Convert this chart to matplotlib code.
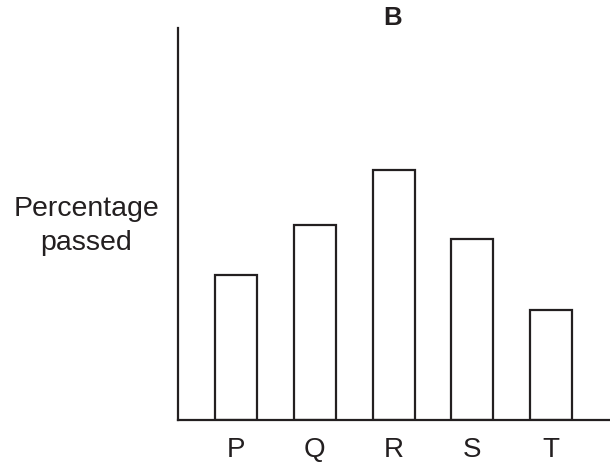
import matplotlib
matplotlib.use("Agg")
import matplotlib.pyplot as plt

categories = ["P", "Q", "R", "S", "T"]
values = [37.0, 49.7, 63.8, 46.2, 28.1]
title = "B"
ylabel = "Percentage\npassed"

plt.rcParams['font.family'] = ['Liberation Sans', 'DejaVu Sans']

fig = plt.figure(figsize=(6.10, 4.63), dpi=100)
ax = fig.add_axes([178/610, 43/463, 432/610, 392/463])
x = list(range(len(categories)))
ax.bar(x, values, width=0.533, facecolor='white', edgecolor='#231f20', linewidth=1.6)
ax.set_xlim(-0.737, 4.749)
ax.set_ylim(0, 100)
ax.set_xticks(x)
ax.set_xticklabels(categories, fontsize=20, color='#231f20')
ax.tick_params(axis='x', length=0, pad=12)
ax.set_yticks([])
for s in ['top', 'right']:
    ax.spines[s].set_visible(False)
for s in ['left', 'bottom']:
    ax.spines[s].set_linewidth(1.6)
    ax.spines[s].set_color('#231f20')
fig.text(393/610, 1 - 18/463, title, ha='center', va='center', fontsize=18.5,
         fontweight='bold', color='#231f20')
fig.text(86.5/610, 1 - 226/463, ylabel, ha='center', va='center', fontsize=20.5,
         color='#231f20', linespacing=1.4)
fig.savefig("out.png", dpi=100)
